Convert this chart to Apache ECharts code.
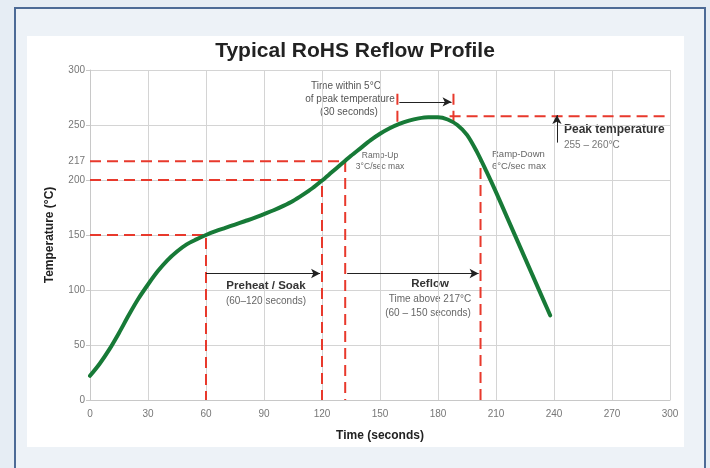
<!DOCTYPE html>
<html>
<head>
<meta charset="utf-8">
<script src="https://cdn.jsdelivr.net/npm/echarts@6/dist/echarts.min.js"></script>
<style>
  html, body { margin: 0; padding: 0; background: #e6edf4; }
  #frame { position: absolute; left: 14px; top: 7px; width: 692px; height: 470px;
           border: 2px solid #4d6b96; box-sizing: border-box; background: #edf2f7; }
  #panel { position: absolute; left: 27px; top: 36px; width: 657px; height: 411px; background: #fff; }
  #chart { position: absolute; left: 0; top: 0; width: 710px; height: 468px; }
</style>
</head>
<body>
<div id="frame"></div>
<div id="panel"></div>
<div id="chart"></div>
<script>
// reflow profile (seconds, °C), every 5 s
var times = [0, 5, 10, 15, 20, 25, 30, 35, 40, 45, 50, 55, 60, 65, 70, 75, 80, 85, 90, 95, 100,
  105, 110, 115, 120, 125, 130, 135, 140, 145, 150, 155, 160, 165, 170, 175, 180, 185, 190,
  195, 200, 205, 210, 215, 220, 225, 230, 235, 238];
var temps = [22, 33, 46, 61, 77, 92, 105, 117, 127, 135, 141.5, 146, 150, 153.5, 156.5, 159.5, 162.5, 165.5, 169, 172.5, 176.5,
  181, 186.5, 192.5, 199.5, 207, 214.5, 222, 229, 236, 242, 247, 251, 254, 256, 257, 257, 255, 250,
  241, 226, 208, 189, 169, 149, 129, 109, 89, 77];

var xTicks = [0, 30, 60, 90, 120, 150, 180, 210, 240, 270, 300];
var yTicks = [0, 50, 100, 150, 200, 250, 300];
var yExtraTicks = [217];

// red dashed guides: [time, temp] polylines
var guideSoakStart = [[0, 150], [60, 150], [60, 0]];
var guideSoakEnd = [[0, 200], [120, 200], [120, 0]];
var guideReflowStart = [[0, 217], [132, 217], [132, 0]];
var guideReflowEnd = [[202, 0], [202, 217]];
var guidePeak = [[186, 258], [300, 258]];
var guideWithinStart = [[159, 253], [159, 282]];
var guideWithinEnd = [[188, 253], [188, 282]];

// black arrows: [from, to]
var arrowSoak = [[60, 115], [119, 115]];
var arrowReflow = [[133, 115], [201, 115]];
var arrowWithin = [[160, 271], [187, 271]];
var arrowPeak = [[241.5, 234], [241.5, 259]];

var chart = echarts.init(document.getElementById('chart'), null, { renderer: 'canvas' });

var sans = '"Liberation Sans", Arial, sans-serif';
var red = '#e8392c';

function guide(pts) {
  return {
    type: 'line', data: pts, symbol: 'none', silent: true, z: 3,
    lineStyle: { color: red, width: 2, type: [11, 6] }
  };
}

function arrow(pair) {
  return [{ coord: pair[0] }, { coord: pair[1] }];
}

var option = {
  backgroundColor: 'transparent',
  animation: false,
  title: {
    text: 'Typical RoHS Reflow Profile',
    left: 'center', top: 36,
    textStyle: { fontFamily: sans, fontWeight: 'bold', fontSize: 21, color: '#222' }
  },
  grid: { left: 90, right: 40, top: 70, bottom: 68 },
  xAxis: {
    type: 'value', min: 0, max: 300, interval: 30,
    name: 'Time (seconds)', nameLocation: 'middle', nameGap: 30,
    nameTextStyle: { fontFamily: sans, fontWeight: 'bold', fontSize: 12, color: '#222' },
    axisLine: { show: true, lineStyle: { color: '#c8c8c8' } },
    axisTick: { show: false },
    axisLabel: {
      color: '#777', fontSize: 10, fontFamily: sans, margin: 9,
      formatter: function (v) { return xTicks.indexOf(v) >= 0 ? String(v) : ''; }
    },
    splitLine: { show: true, lineStyle: { color: '#d4d4d4', width: 1 } }
  },
  yAxis: [{
    type: 'value', min: 0, max: 300, interval: 50,
    name: 'Temperature (°C)', nameLocation: 'middle', nameGap: 34,
    nameTextStyle: { fontFamily: sans, fontWeight: 'bold', fontSize: 12, color: '#222' },
    axisLine: { show: true, lineStyle: { color: '#c8c8c8' } },
    axisTick: { show: true, length: 4, lineStyle: { color: '#c8c8c8' } },
    axisLabel: {
      color: '#777', fontSize: 10, fontFamily: sans, margin: 5,
      formatter: function (v) { return yTicks.indexOf(v) >= 0 ? String(v) : ''; }
    },
    splitLine: { show: true, lineStyle: { color: '#d4d4d4', width: 1 } }
  }, {
    type: 'value', min: 0, max: 300, position: 'left',
    axisLine: { show: false }, axisTick: { show: false }, splitLine: { show: false },
    axisLabel: { customValues: yExtraTicks, color: '#777', fontSize: 10, fontFamily: sans, margin: 5 }
  }],
  series: [
    guide(guideSoakStart),
    guide(guideSoakEnd),
    guide(guideReflowStart),
    guide(guideReflowEnd),
    guide(guidePeak),
    guide(guideWithinStart),
    guide(guideWithinEnd),
    {
      name: 'Profile', type: 'line', z: 5,
      data: times.map(function (t, i) { return [t, temps[i]]; }),
      smooth: 0.3, symbol: 'none',
      lineStyle: { color: '#177a37', width: 4, cap: 'round', join: 'round' },
      markLine: {
        silent: true, symbol: ['none', 'arrow'], symbolSize: [7, 9],
        label: { show: false },
        lineStyle: { color: '#222', width: 1, type: 'solid' },
        data: [arrow(arrowSoak), arrow(arrowReflow), arrow(arrowWithin), arrow(arrowPeak)]
      }
    }
  ],
  graphic: [
    { type: 'text', x: 266, y: 280, style: { text: 'Preheat / Soak', align: 'center', fill: '#333', font: 'bold 11.5px ' + sans } },
    { type: 'text', x: 266, y: 296, style: { text: '(60–120 seconds)', align: 'center', fill: '#666', font: '10px ' + sans } },
    { type: 'text', x: 430, y: 278, style: { text: 'Reflow', align: 'center', fill: '#333', font: 'bold 11.5px ' + sans } },
    { type: 'text', x: 430, y: 294, style: { text: 'Time above 217°C', align: 'center', fill: '#666', font: '10px ' + sans } },
    { type: 'text', x: 428, y: 308, style: { text: '(60 – 150 seconds)', align: 'center', fill: '#666', font: '10px ' + sans } },
    { type: 'text', x: 346, y: 81, style: { text: 'Time within 5°C', align: 'center', fill: '#555', font: '10px ' + sans } },
    { type: 'text', x: 350, y: 94, style: { text: 'of peak temperature', align: 'center', fill: '#555', font: '10px ' + sans } },
    { type: 'text', x: 349, y: 107, style: { text: '(30 seconds)', align: 'center', fill: '#555', font: '10px ' + sans } },
    { type: 'text', x: 380, y: 151, style: { text: 'Ramp-Up', align: 'center', fill: '#666', font: '8.5px ' + sans } },
    { type: 'text', x: 380, y: 162, style: { text: '3°C/sec max', align: 'center', fill: '#666', font: '8.5px ' + sans } },
    { type: 'text', x: 492, y: 149, style: { text: 'Ramp-Down', align: 'left', fill: '#666', font: '9.5px ' + sans } },
    { type: 'text', x: 492, y: 161, style: { text: '6°C/sec max', align: 'left', fill: '#666', font: '9.5px ' + sans } },
    { type: 'text', x: 564, y: 124, style: { text: 'Peak temperature', align: 'left', fill: '#333', font: 'bold 12px ' + sans } },
    { type: 'text', x: 564, y: 140, style: { text: '255 – 260°C', align: 'left', fill: '#777', font: '10px ' + sans } }
  ]
};

chart.setOption(option);
</script>
</body>
</html>
